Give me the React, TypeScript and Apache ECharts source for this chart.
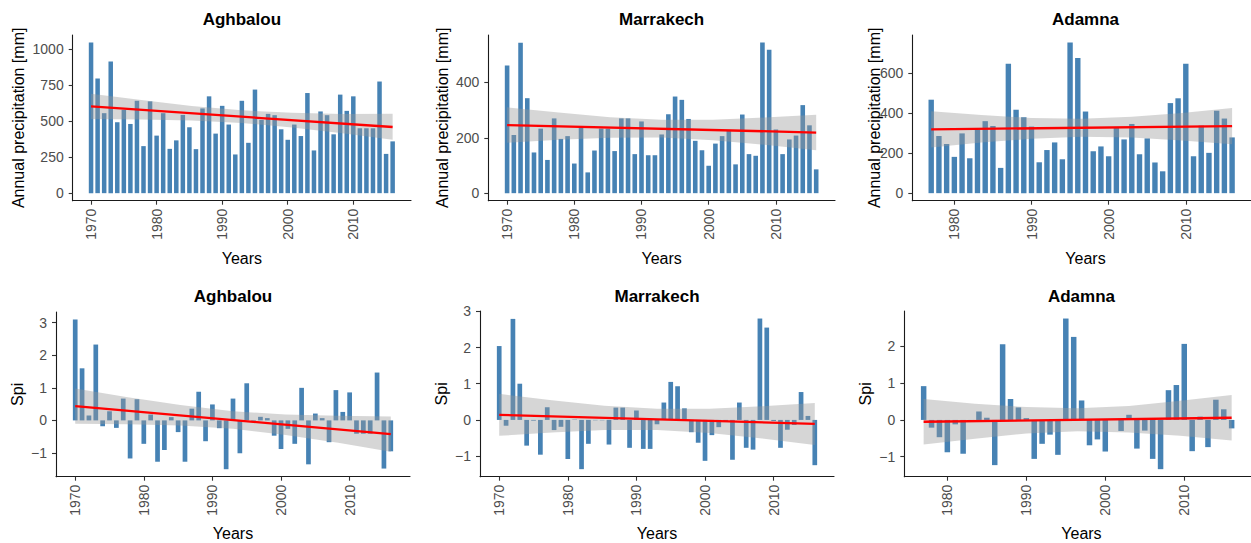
import React, { useEffect, useRef } from "react";
import * as echarts from "echarts";

// ---------- DATA ----------
const yearsLong = [
  1970, 1971, 1972, 1973, 1974, 1975, 1976, 1977, 1978, 1979,
  1980, 1981, 1982, 1983, 1984, 1985, 1986, 1987, 1988, 1989,
  1990, 1991, 1992, 1993, 1994, 1995, 1996, 1997, 1998, 1999,
  2000, 2001, 2002, 2003, 2004, 2005, 2006, 2007, 2008, 2009,
  2010, 2011, 2012, 2013, 2014, 2015, 2016,
];
const yearsAdamna = [
  1977, 1978, 1979,
  1980, 1981, 1982, 1983, 1984, 1985, 1986, 1987, 1988, 1989,
  1990, 1991, 1992, 1993, 1994, 1995, 1996, 1997, 1998, 1999,
  2000, 2001, 2002, 2003, 2004, 2005, 2006, 2007, 2008, 2009,
  2010, 2011, 2012, 2013, 2014, 2015, 2016,
];

const aghbalouPrecip = [
  1047, 797, 556, 916, 493, 579, 481, 642, 327, 638,
  400, 556, 308, 367, 544, 458, 306, 589, 673, 414,
  607, 477, 269, 642, 350, 720, 509, 551, 542, 444,
  371, 477, 397, 696, 297, 568, 542, 409, 685, 572,
  673, 451, 451, 451, 776, 273, 360,
];
const marrakechPrecip = [
  461, 210, 543, 343, 147, 233, 120, 270, 196, 206,
  107, 236, 75, 154, 233, 233, 152, 270, 270, 141,
  259, 137, 137, 212, 285, 349, 337, 268, 189, 155,
  99, 179, 206, 225, 104, 284, 141, 135, 544, 518,
  230, 141, 194, 208, 318, 245, 86,
];
const adamnaPrecip = [
  466, 285, 245,
  181, 298, 174, 318, 359, 335, 126, 645, 416, 379,
  332, 154, 215, 253, 169, 751, 674, 407, 209, 233,
  184, 328, 268, 345, 194, 273, 153, 109, 449, 473,
  645, 184, 337, 201, 411, 372, 278,
];

const aghbalouSpi = [
  3.1, 1.6, 0.15, 2.33, -0.18, 0.28, -0.23, 0.67, -1.17, 0.65,
  -0.72, 0.18, -1.27, -0.91, 0.1, -0.36, -1.27, 0.36, 0.88, -0.64,
  0.49, -0.24, -1.5, 0.67, -1.01, 1.14, -0.05, 0.11, 0.07, -0.47,
  -0.88, -0.26, -0.72, 1.0, -1.35, 0.21, 0.07, -0.67, 0.93, 0.26,
  0.86, -0.41, -0.41, -0.41, 1.47, -1.48, -0.95,
];
const marrakechSpi = [
  2.04, -0.16, 2.79, 1.0, -0.71, -0.02, -0.96, 0.35, -0.28, -0.19,
  -1.08, 0.01, -1.36, -0.66, -0.01, -0.01, -0.68, 0.34, 0.34, -0.77,
  0.26, -0.8, -0.8, -0.12, 0.48, 1.05, 0.93, 0.32, -0.34, -0.63,
  -1.13, -0.42, -0.2, -0.05, -1.1, 0.48, -0.77, -0.82, 2.8, 2.55,
  -0.03, -0.77, -0.27, -0.14, 0.77, 0.11, -1.25,
];
const adamnaSpi = [
  0.92, -0.21, -0.47,
  -0.88, -0.12, -0.92, -0.03, 0.23, 0.06, -1.23, 2.06, 0.57, 0.34,
  0.05, -1.06, -0.65, -0.4, -0.95, 2.76, 2.26, 0.53, -0.69, -0.53,
  -0.86, 0.02, -0.3, 0.14, -0.78, -0.29, -1.06, -1.34, 0.81, 0.95,
  2.07, -0.85, 0.09, -0.74, 0.55, 0.29, -0.23,
];

// Linear trend endpoints
const trendYearsLong = [1970, 2016];
const trendYearsAdamna = [1977, 2016];
const aghbalouPrecipTrend = [603, 460];
const marrakechPrecipTrend = [246, 219];
const adamnaPrecipTrend = [318, 334];
const aghbalouSpiTrend = [0.44, -0.42];
const marrakechSpiTrend = [0.14, -0.11];
const adamnaSpiTrend = [-0.05, 0.06];

// Confidence band samples
const bandYearsLong = [1970, 1977.67, 1985.33, 1993, 2000.67, 2008.33, 2016];
const bandYearsAdamna = [1977, 1983.5, 1990, 1996.5, 2003, 2009.5, 2016];
const aghbalouPrecipLo = [515, 512, 505, 488, 457, 417, 372];
const aghbalouPrecipHi = [691, 647, 606, 576, 559, 551, 552];
const marrakechPrecipLo = [182, 193, 200, 201, 191, 175, 155];
const marrakechPrecipHi = [310, 291, 274, 265, 265, 273, 283];
const adamnaPrecipLo = [228, 252, 271, 281, 277, 262, 244];
const adamnaPrecipHi = [408, 390, 375, 371, 381, 400, 424];
const aghbalouSpiLo = [-0.1, -0.12, -0.16, -0.26, -0.45, -0.69, -0.96];
const aghbalouSpiHi = [0.98, 0.71, 0.47, 0.28, 0.18, 0.14, 0.12];
const marrakechSpiLo = [-0.44, -0.35, -0.28, -0.28, -0.36, -0.51, -0.69];
const marrakechSpiHi = [0.72, 0.54, 0.39, 0.31, 0.31, 0.38, 0.47];
const adamnaSpiLo = [-0.67, -0.51, -0.37, -0.31, -0.34, -0.43, -0.56];
const adamnaSpiHi = [0.57, 0.44, 0.35, 0.32, 0.38, 0.52, 0.68];

const xTicksLong = [1970, 1980, 1990, 2000, 2010];
const xTicksAdamna = [1980, 1990, 2000, 2010];
const yTicksAghbalouPrecip = [0, 250, 500, 750, 1000];
const yTicksMarrakechPrecip = [0, 200, 400];
const yTicksAdamnaPrecip = [0, 200, 400, 600];
const yTicksAghbalouSpi = [-1, 0, 1, 2, 3];
const yTicksMarrakechSpi = [-1, 0, 1, 2, 3];
const yTicksAdamnaSpi = [-1, 0, 1, 2];

const stationTitles = ["Aghbalou", "Marrakech", "Adamna"];
const precipLabel = "Annual precipitation [mm]";
const spiLabel = "Spi";
const xLabel = "Years";

// ---------- LAYOUT ----------
const FONT = "'Liberation Sans', Arial, Helvetica, sans-serif";

type Panel = {
  title: string;
  yName: string;
  years: number[];
  values: number[];
  trendYears: number[];
  trend: number[];
  bandYears: number[];
  lo: number[];
  hi: number[];
  xTicks: number[];
  yTicks: number[];
  xMin: number;
  xMax: number;
  yMin: number;
  yMax: number;
  grid: { left: number; top: number; width: number; height: number };
  yNameX: number;
  barWidth: number;
  minus: boolean;
};

const panels: Panel[] = [
  {
    title: stationTitles[0], yName: precipLabel, years: yearsLong, values: aghbalouPrecip,
    trendYears: trendYearsLong, trend: aghbalouPrecipTrend, bandYears: bandYearsLong,
    lo: aghbalouPrecipLo, hi: aghbalouPrecipHi, xTicks: xTicksLong, yTicks: yTicksAghbalouPrecip,
    xMin: 1967.2, xMax: 2018.8, yMin: -52.35, yMax: 1099.35,
    grid: { left: 72.7, top: 35, width: 338.3, height: 165.7 }, yNameX: 18, barWidth: 4.5, minus: false,
  },
  {
    title: stationTitles[1], yName: precipLabel, years: yearsLong, values: marrakechPrecip,
    trendYears: trendYearsLong, trend: marrakechPrecipTrend, bandYears: bandYearsLong,
    lo: marrakechPrecipLo, hi: marrakechPrecipHi, xTicks: xTicksLong, yTicks: yTicksMarrakechPrecip,
    xMin: 1967.2, xMax: 2018.8, yMin: -27.2, yMax: 571.2,
    grid: { left: 488.3, top: 35, width: 346.7, height: 165.7 }, yNameX: 442, barWidth: 4.6, minus: false,
  },
  {
    title: stationTitles[2], yName: precipLabel, years: yearsAdamna, values: adamnaPrecip,
    trendYears: trendYearsAdamna, trend: adamnaPrecipTrend, bandYears: bandYearsAdamna,
    lo: adamnaPrecipLo, hi: adamnaPrecipHi, xTicks: xTicksAdamna, yTicks: yTicksAdamnaPrecip,
    xMin: 1974.55, xMax: 2018.45, yMin: -37.55, yMax: 788.55,
    grid: { left: 912.3, top: 35, width: 346.4, height: 165.7 }, yNameX: 874, barWidth: 5.4, minus: false,
  },
  {
    title: stationTitles[0], yName: spiLabel, years: yearsLong, values: aghbalouSpi,
    trendYears: trendYearsLong, trend: aghbalouSpiTrend, bandYears: bandYearsLong,
    lo: aghbalouSpiLo, hi: aghbalouSpiHi, xTicks: xTicksLong, yTicks: yTicksAghbalouSpi,
    xMin: 1967.2, xMax: 2018.8, yMin: -1.73, yMax: 3.33,
    grid: { left: 56, top: 312, width: 354, height: 164.7 }, yNameX: 17.5, barWidth: 4.7, minus: true,
  },
  {
    title: stationTitles[1], yName: spiLabel, years: yearsLong, values: marrakechSpi,
    trendYears: trendYearsLong, trend: marrakechSpiTrend, bandYears: bandYearsLong,
    lo: marrakechSpiLo, hi: marrakechSpiHi, xTicks: xTicksLong, yTicks: yTicksMarrakechSpi,
    xMin: 1967.2, xMax: 2018.8, yMin: -1.568, yMax: 3.008,
    grid: { left: 480, top: 311, width: 354, height: 165.7 }, yNameX: 441, barWidth: 4.7, minus: true,
  },
  {
    title: stationTitles[2], yName: spiLabel, years: yearsAdamna, values: adamnaSpi,
    trendYears: trendYearsAdamna, trend: adamnaSpiTrend, bandYears: bandYearsAdamna,
    lo: adamnaSpiLo, hi: adamnaSpiHi, xTicks: xTicksAdamna, yTicks: yTicksAdamnaSpi,
    xMin: 1974.55, xMax: 2018.45, yMin: -1.545, yMax: 2.965,
    grid: { left: 904.3, top: 311, width: 354.3, height: 165.7 }, yNameX: 865, barWidth: 5.5, minus: true,
  },
];

function buildOption() {
  const grids: any[] = [];
  const xAxes: any[] = [];
  const yAxes: any[] = [];
  const series: any[] = [];
  const graphics: any[] = [];

  panels.forEach((p, i) => {
    grids.push({ ...p.grid, containLabel: false });
    xAxes.push({
      gridIndex: i,
      type: "value",
      min: p.xMin,
      max: p.xMax,
      axisLine: { show: true, onZero: false, lineStyle: { color: "#1a1a1a", width: 1.1 } },
      axisTick: { show: true, customValues: p.xTicks, length: 4, lineStyle: { color: "#333333", width: 1.1 } },
      axisLabel: {
        customValues: p.xTicks,
        rotate: 90,
        margin: 8,
        fontSize: 14,
        color: "#4d4d4d",
        fontFamily: FONT,
        formatter: (v: number) => String(v),
      },
      splitLine: { show: false },
    });
    yAxes.push({
      gridIndex: i,
      type: "value",
      min: p.yMin,
      max: p.yMax,
      axisLine: { show: true, onZero: false, lineStyle: { color: "#1a1a1a", width: 1.1 } },
      axisTick: { show: true, customValues: p.yTicks, length: 4, lineStyle: { color: "#333333", width: 1.1 } },
      axisLabel: {
        customValues: p.yTicks,
        margin: 9,
        fontSize: 14,
        color: "#4d4d4d",
        fontFamily: FONT,
        formatter: (v: number) => (p.minus && v < 0 ? "\u2212" + Math.abs(v) : String(v)),
      },
      splitLine: { show: false },
    });

    series.push({
      type: "bar",
      xAxisIndex: i,
      yAxisIndex: i,
      data: p.years.map((y, k) => [y, p.values[k]]),
      barWidth: p.barWidth,
      itemStyle: { color: "#4682B4" },
      z: 2,
    });
    series.push({
      type: "custom",
      xAxisIndex: i,
      yAxisIndex: i,
      data: p.bandYears.map((y, k) => [y, p.lo[k], p.hi[k]]),
      encode: { x: 0, y: [1, 2] },
      renderItem: (params: any, api: any) => {
        if (params.dataIndex !== 0) return null;
        const upper = p.bandYears.map((y, k) => api.coord([y, p.hi[k]]));
        const lower = p.bandYears.map((y, k) => api.coord([y, p.lo[k]])).reverse();
        return {
          type: "polygon",
          shape: { points: upper.concat(lower) },
          style: { fill: "#999999", opacity: 0.4 },
        };
      },
      silent: true,
      z: 3,
    });
    series.push({
      type: "line",
      xAxisIndex: i,
      yAxisIndex: i,
      data: p.trendYears.map((y, k) => [y, p.trend[k]]),
      symbol: "none",
      lineStyle: { color: "#FF0000", width: 2.3 },
      z: 4,
    });

    const cx = p.grid.left + p.grid.width / 2;
    const cy = p.grid.top + p.grid.height / 2;
    const row = i < 3 ? 0 : 1;
    graphics.push({
      type: "text",
      x: cx,
      y: row === 0 ? 19 : 296,
      style: {
        text: p.title,
        textAlign: "center",
        textVerticalAlign: "middle",
        fontSize: 17,
        fontWeight: "bold",
        fontFamily: FONT,
        fill: "#000000",
      },
    });
    graphics.push({
      type: "text",
      x: cx,
      y: row === 0 ? 258 : 533,
      style: {
        text: xLabel,
        textAlign: "center",
        textVerticalAlign: "middle",
        fontSize: 16,
        fontFamily: FONT,
        fill: "#000000",
      },
    });
    graphics.push({
      type: "text",
      x: p.yNameX,
      y: cy,
      rotation: Math.PI / 2,
      style: {
        text: p.yName,
        textAlign: "center",
        textVerticalAlign: "middle",
        fontSize: 16,
        fontFamily: FONT,
        fill: "#000000",
      },
    });
  });

  return {
    animation: false,
    backgroundColor: "#ffffff",
    grid: grids,
    xAxis: xAxes,
    yAxis: yAxes,
    series,
    graphic: graphics,
  };
}

export default function App() {
  const ref = useRef<HTMLDivElement>(null);
  useEffect(() => {
    if (!ref.current) return;
    const chart = echarts.init(ref.current, null, { renderer: "svg" });
    chart.setOption(buildOption() as any);
    return () => chart.dispose();
  }, []);
  return (
    <div
      ref={ref}
      style={{ position: "absolute", left: 0, top: 0, width: 1251, height: 543, background: "#fff" }}
    />
  );
}
